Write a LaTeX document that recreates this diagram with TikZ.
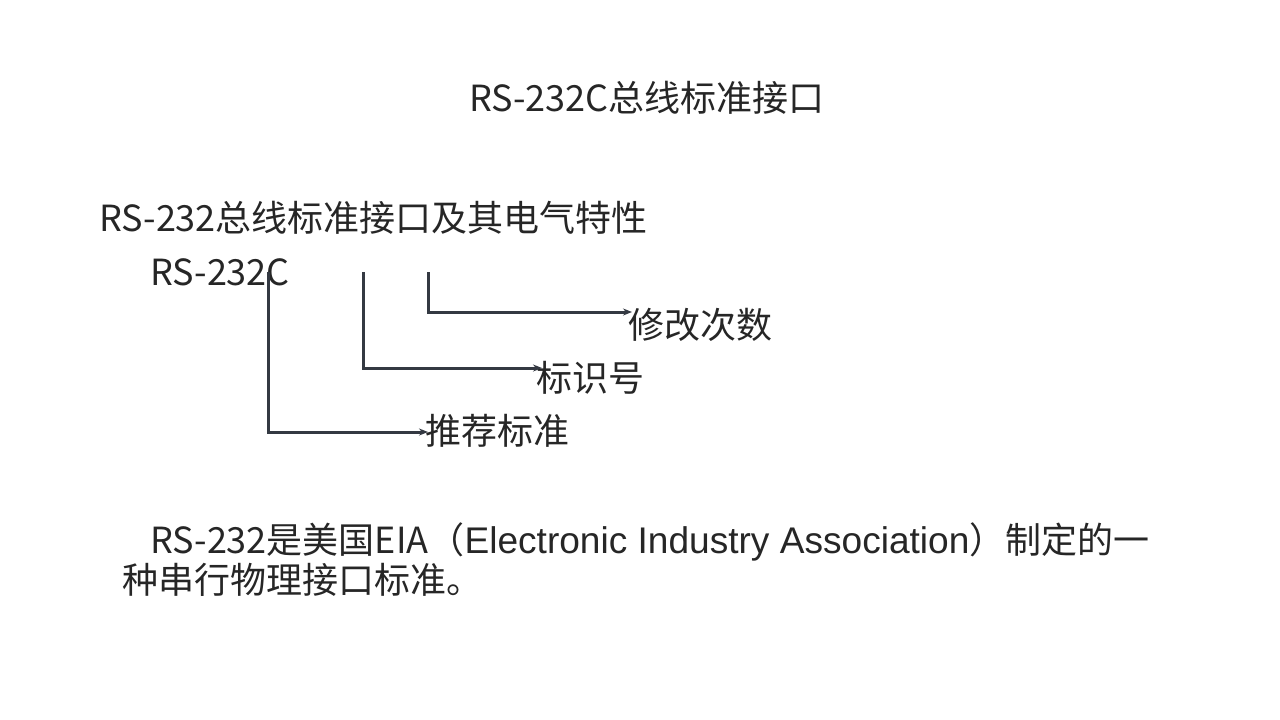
\documentclass[tikz,border=0pt]{standalone}
\usepackage{fontspec}
\setmainfont{Noto Sans CJK SC}
\newfontfamily\latinfont[Scale=1.03]{Liberation Sans}
\usepackage{tikz}
\usetikzlibrary{arrows.meta}
\definecolor{linegray}{RGB}{52,57,66}
\definecolor{textgray}{RGB}{38,38,38}

\begin{document}
\begin{tikzpicture}[x=1pt,y=-1pt,
    txt/.style={inner sep=0pt,anchor=base west,text=textgray,font=\fontsize{36}{40}\selectfont},
    conn/.style={draw=linegray,line width=3pt,-{Stealth[length=9pt,width=7pt]}}]
	\useasboundingbox (0,0) rectangle (1280,720);
	\node[txt,anchor=base] (title) at (647,111) {RS-232C总线标准接口};
	\node[txt] (head) at (99,231) {RS-232总线标准接口及其电气特性};
	\node[txt] (rsc) at (150,285) {RS-232C};
	\node[txt] (xiugai) at (628,338) {修改次数};
	\node[txt] (biaoshi) at (536,391) {标识号};
	\node[txt] (tuijian) at (425,444) {推荐标准};
	\coordinate (c1) at (268,272);
	\coordinate (c2) at (363,272);
	\coordinate (c3) at (428,272);
	\draw[conn] (c3) |- ([xshift=4pt]xiugai.west |- 0,312);
	\draw[conn] (c2) |- ([xshift=6pt]biaoshi.west |- 0,368);
	\draw[conn] (c1) |- ([xshift=3pt]tuijian.west |- 0,432);
	\node[txt] (para1) at (150,553) {RS-232是美国EIA（{\latinfont Electronic Industry Association}）制定的一};
	\node[txt] (para2) at (122,593) {种串行物理接口标准。};
\end{tikzpicture}
\end{document}
